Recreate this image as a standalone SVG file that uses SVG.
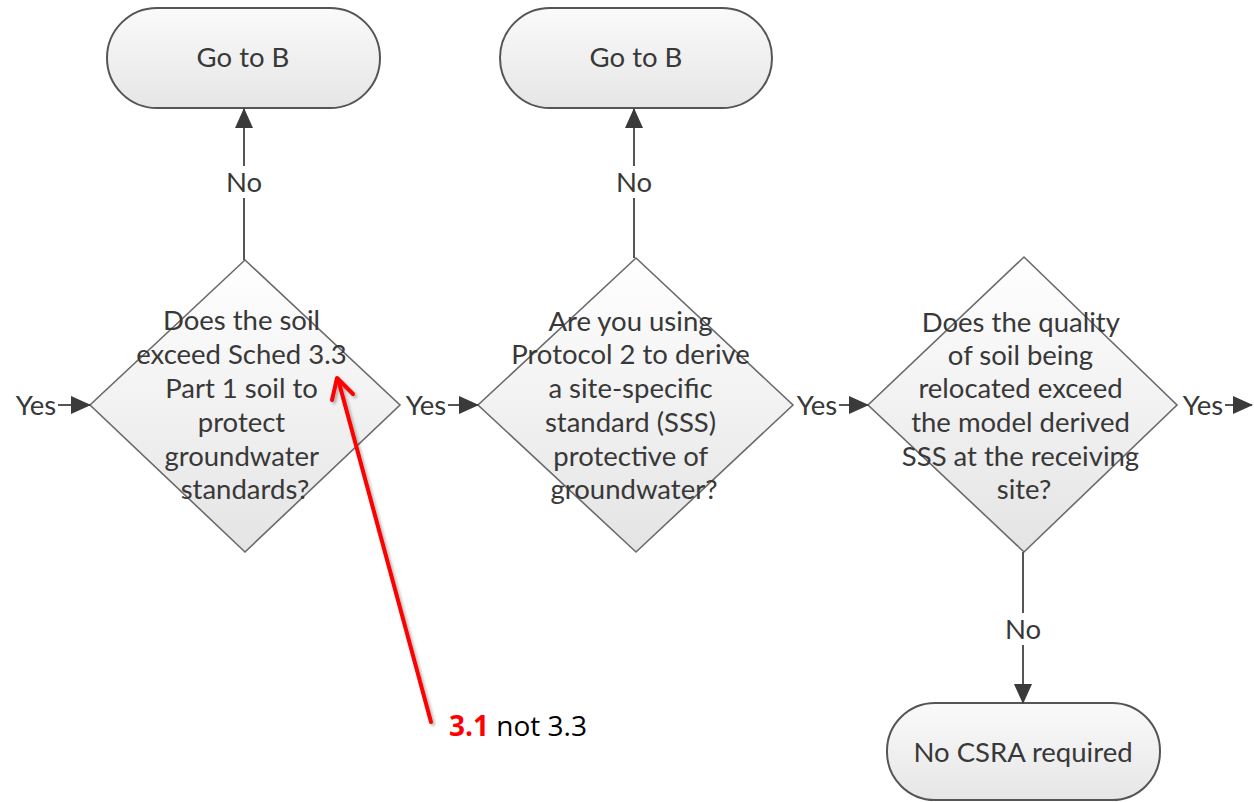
<svg xmlns="http://www.w3.org/2000/svg" width="1254" height="802" viewBox="0 0 1254 802">
  <defs>
    <linearGradient id="fillTerm" x1="0" y1="0" x2="0" y2="1">
      <stop offset="0" stop-color="#fafafa"/>
      <stop offset="1" stop-color="#e6e6e6"/>
    </linearGradient>
    <linearGradient id="fillDec" x1="0" y1="0" x2="0" y2="1">
      <stop offset="0" stop-color="#ffffff"/>
      <stop offset="1" stop-color="#e4e4e4"/>
    </linearGradient>
    <marker id="arrow" viewBox="0 0 20 18" refX="19" refY="9" markerWidth="20" markerHeight="18" markerUnits="userSpaceOnUse" orient="auto">
      <path d="M0,0 L20,9 L0,18 Z" fill="#3a3a3a"/>
    </marker>
    <filter id="shadow" x="-20%" y="-20%" width="140%" height="140%">
      <feDropShadow dx="2" dy="2" stdDeviation="1.5" flood-color="#000" flood-opacity="0.3"/>
    </filter>
  </defs>
  <style>
    .term { fill: url(#fillTerm); stroke: #555; stroke-width: 2; }
    .dec { fill: url(#fillDec); stroke: #6a6a6a; stroke-width: 1.6; }
    .lbl { font-family: Lato, "Open Sans", "Liberation Sans", sans-serif; font-size: 27.5px; fill: #383838; text-anchor: middle; }
    .conn { stroke: #555; stroke-width: 2; fill: none; }
    .note { font-family: "Open Sans", "Liberation Sans", sans-serif; font-size: 28px; }
  </style>

  <!-- terminators -->
  <g id="goto-b-1">
    <rect class="term" x="107" y="8" width="273" height="100" rx="50" ry="50"/>
    <text class="lbl" x="243" y="67">Go to B</text>
  </g>
  <g id="goto-b-2">
    <rect class="term" x="500" y="8" width="272" height="100" rx="50" ry="50"/>
    <text class="lbl" x="636" y="67">Go to B</text>
  </g>
  <g id="no-csra">
    <rect class="term" x="887" y="703" width="273" height="97" rx="48" ry="48"/>
    <text class="lbl" x="1023" y="762">No CSRA required</text>
  </g>

  <!-- decisions -->
  <g id="exceed-sched">
    <polygon class="dec" points="245,260 400,405 245,552 90,405"/>
    <text class="lbl">
      <tspan x="245" y="330">Does the soil</tspan>
      <tspan x="245" y="364">exceed Sched 3.3</tspan>
      <tspan x="245" y="398">Part 1 soil to</tspan>
      <tspan x="245" y="432">protect</tspan>
      <tspan x="245" y="466">groundwater</tspan>
      <tspan x="245" y="499">standards?</tspan>
    </text>
  </g>
  <g id="protocol-2">
    <polygon class="dec" points="636,258 793,405 636,552 478,405"/>
    <text class="lbl">
      <tspan x="634" y="331">Are you using</tspan>
      <tspan x="634" y="364">Protocol 2 to derive</tspan>
      <tspan x="634" y="398">a site-specific</tspan>
      <tspan x="634" y="432">standard (SSS)</tspan>
      <tspan x="634" y="466">protective of</tspan>
      <tspan x="634" y="499">groundwater?</tspan>
    </text>
  </g>
  <g id="quality-exceed">
    <polygon class="dec" points="1024,257 1177,405 1024,552 868,405"/>
    <text class="lbl">
      <tspan x="1024" y="332">Does the quality</tspan>
      <tspan x="1024" y="365">of soil being</tspan>
      <tspan x="1024" y="398">relocated exceed</tspan>
      <tspan x="1024" y="432">the model derived</tspan>
      <tspan x="1024" y="466">SSS at the receiving</tspan>
      <tspan x="1024" y="499">site?</tspan>
    </text>
  </g>

  <!-- connectors -->
  <g id="connectors">
    <line class="conn" x1="244" y1="260" x2="244" y2="198"/>
    <line class="conn" x1="244" y1="166" x2="244" y2="109" marker-end="url(#arrow)"/>
    <text class="lbl" x="244" y="192">No</text>

    <line class="conn" x1="634" y1="258" x2="634" y2="198"/>
    <line class="conn" x1="634" y1="166" x2="634" y2="109" marker-end="url(#arrow)"/>
    <text class="lbl" x="634" y="192">No</text>

    <line class="conn" x1="1023" y1="552" x2="1023" y2="613"/>
    <line class="conn" x1="1023" y1="645" x2="1023" y2="703" marker-end="url(#arrow)"/>
    <text class="lbl" x="1023" y="639">No</text>

    <text class="lbl" x="36" y="415">Yes</text>
    <line class="conn" x1="58" y1="405" x2="90" y2="405" marker-end="url(#arrow)"/>

    <text class="lbl" x="426" y="415">Yes</text>
    <line class="conn" x1="448" y1="405" x2="478" y2="405" marker-end="url(#arrow)"/>

    <text class="lbl" x="817" y="415">Yes</text>
    <line class="conn" x1="839" y1="405" x2="868" y2="405" marker-end="url(#arrow)"/>

    <text class="lbl" x="1203" y="415">Yes</text>
    <line class="conn" x1="1225" y1="405" x2="1252" y2="405" marker-end="url(#arrow)"/>
  </g>

  <!-- correction callout -->
  <g id="callout" filter="url(#shadow)">
    <line x1="431" y1="722" x2="338" y2="379" stroke="#ff0000" stroke-width="4" stroke-linecap="round"/>
    <polyline points="332,400 337,378 353,394" fill="none" stroke="#ff0000" stroke-width="4" stroke-linecap="round" stroke-linejoin="round"/>
  </g>
  <text class="note" x="449" y="736"><tspan fill="#ff0000" font-weight="bold">3.1</tspan><tspan fill="#000"> not 3.3</tspan></text>
</svg>
